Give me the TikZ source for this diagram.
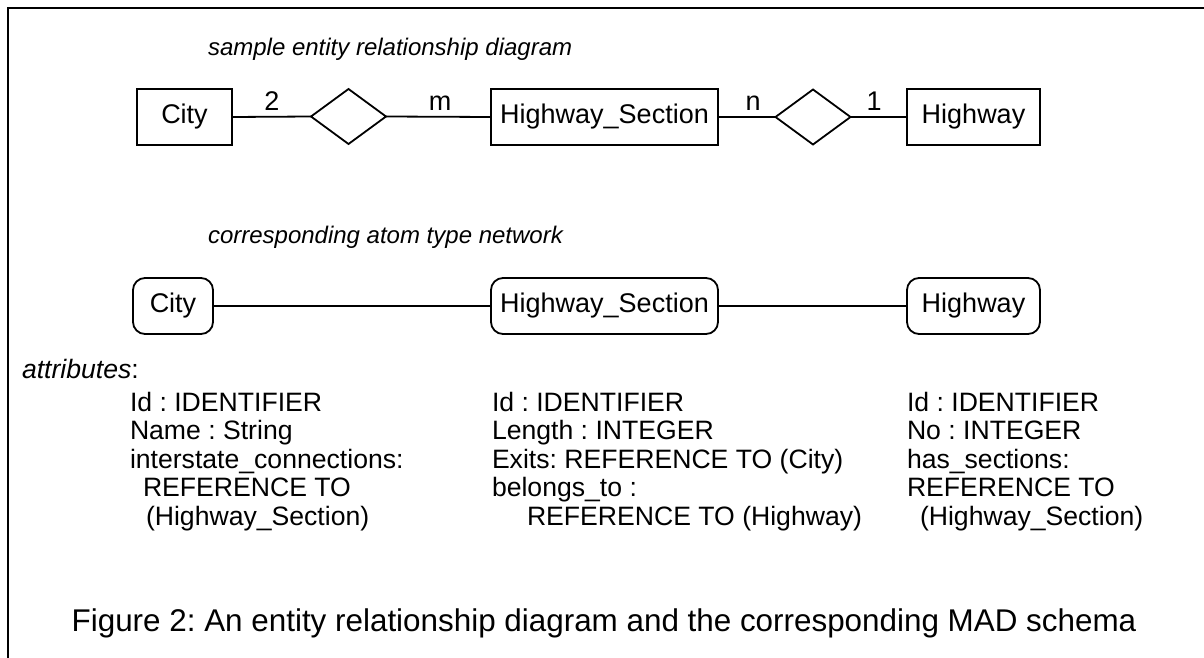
\documentclass[tikz,border=0pt]{standalone}
\usepackage{fontspec}
\setmainfont{Liberation Sans}
\usetikzlibrary{shapes.geometric}
\frenchspacing
\begin{document}
\begin{tikzpicture}[x=0.5pt,y=-0.5pt,
  line width=0.9pt,
  every node/.style={inner sep=0pt,outer sep=0pt},
  entity/.style={draw,rectangle,minimum height=28pt,font=\fontsize{13.5}{16}\selectfont},
  relship/.style={draw,diamond,minimum width=37.5pt,minimum height=27.5pt},
  atom/.style={draw,rectangle,rounded corners=6pt,minimum height=28pt,font=\fontsize{13.5}{16}\selectfont},
  card/.style={anchor=base,font=\fontsize{13.5}{16}\selectfont},
  heading/.style={anchor=base west,font=\fontsize{12}{14}\selectfont\itshape},
  attr/.style={anchor=base west,font=\fontsize{13.3}{16}\selectfont},
  caption/.style={anchor=base,font=\fontsize{15.7}{19}\selectfont}
]
\useasboundingbox (0,0) rectangle (1204,658);
% frame
\draw (8,658) -- (8,8) -- (1204,8);

% headings
\node[heading] (h1) at (208,56) {sample entity relationship diagram};
\node[heading] (h2) at (208,243) {corresponding atom type network};

% ER diagram
\node[entity,minimum width=47.5pt] (city) at (184.5,117) {City};
\node[relship] (r1) at (348.5,116.5) {};
\node[entity,minimum width=113.5pt] (hs) at (604.5,117) {Highway\_Section};
\node[relship] (r2) at (813,117) {};
\node[entity,minimum width=66.5pt] (hw) at (973.5,117) {Highway};
\draw (city.east) -- (r1.west);
\draw (r1.east) -- (hs.west);
\draw (hs.east) -- (r2.west);
\draw (r2.east) -- (hw.west);
\node[card] (c2) at (272,111) {2};
\node[card] (cm) at (440,111) {m};
\node[card] (cn) at (753,111) {n};
\node[card] (c1) at (874,111) {1};

% atom type network
\node[atom,minimum width=40pt] (acity) at (173,306) {City};
\node[atom,minimum width=113.5pt] (ahs) at (604.5,306) {Highway\_Section};
\node[atom,minimum width=66.5pt] (ahw) at (973.5,306) {Highway};
\draw (acity.east) -- (ahs.west);
\draw (ahs.east) -- (ahw.west);

% attributes
\node[attr] (attr) at (22,378) {\textit{attributes}:};

\node[attr] (a11) at (130,411) {Id : IDENTIFIER};
\node[attr] (a12) at (130,439.5) {Name : String};
\node[attr] (a13) at (130,468) {interstate\_connections:};
\node[attr] (a14) at (143,496.5) {REFERENCE TO};
\node[attr] (a15) at (146,525) {(Highway\_Section)};

\node[attr] (a21) at (492,411) {Id : IDENTIFIER};
\node[attr] (a22) at (492,439.5) {Length : INTEGER};
\node[attr] (a23) at (492,468) {Exits: REFERENCE TO (City)};
\node[attr] (a24) at (492,496.5) {belongs\_to :};
\node[attr] (a25) at (527,525) {REFERENCE TO (Highway)};

\node[attr] (a31) at (907,411) {Id : IDENTIFIER};
\node[attr] (a32) at (907,439.5) {No : INTEGER};
\node[attr] (a33) at (907,468) {has\_sections:};
\node[attr] (a34) at (907,496.5) {REFERENCE TO};
\node[attr] (a35) at (920,525) {(Highway\_Section)};

% caption
\node[caption] (cap) at (604,631) {Figure 2: An entity relationship diagram and the corresponding MAD schema};
\end{tikzpicture}
\end{document}
